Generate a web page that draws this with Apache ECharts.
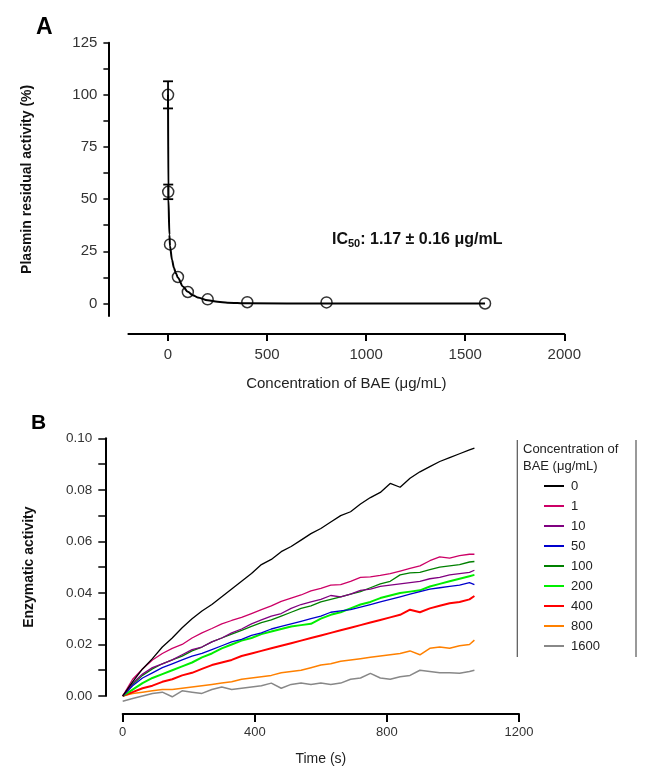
<!DOCTYPE html>
<html>
<head>
<meta charset="utf-8">
<script src="https://cdn.jsdelivr.net/npm/echarts@6/dist/echarts.min.js"></script>
<style>
html, body { margin: 0; padding: 0; background: #fff; }
#main { width: 645px; height: 781px; }
</style>
</head>
<body>
<div id="main"></div>
<script>
// ---- panel A: dose response ----
var concA = [0, 1, 10, 50, 100, 200, 400, 800, 1600];
var activityA = [100, 53.5, 28.3, 12.7, 5.5, 2, 0.6, 0.5, 0];
var sdA = [6.5, 3.5, 0, 0, 0, 0, 0, 0, 0];
// fitted curve
var fitX = [0, 2, 7, 10, 20, 30, 40, 50, 75, 100, 125, 150, 200, 250, 300, 400, 800, 1600];
var fitY = [100, 50, 33, 27.5, 21, 17, 14.5, 12.3, 8.2, 5.6, 4, 2.9, 1.5, 0.8, 0.4, 0.1, 0, 0];
var xLabelsA = [0, 500, 1000, 1500, 2000];
var yLabelsA = [0, 25, 50, 75, 100, 125];
var yTicksA = [0, 12.5, 25, 37.5, 50, 62.5, 75, 87.5, 100, 112.5, 125];

// ---- panel B: kinetics ----
var doses = ['0', '1', '10', '50', '100', '200', '400', '800', '1600'];
var timeB = [0, 30, 60, 90, 120, 150, 180, 210, 240, 270, 300, 330, 360, 390, 420, 450, 480, 510, 540,
  570, 600, 630, 660, 690, 720, 750, 780, 810, 840, 870, 900, 930, 960, 990, 1020, 1050, 1065];
var act0 = [0, .0055, .0105, .0145, .019, .0225, .0265, .030, .033, .0355, .0385, .0415, .0445, .0475, .0510, .0530,
  .0560, .0580, .0605, .0630, .0650, .0675, .0700, .0715, .0745, .0770, .0790, .0825, .0810, .0845, .0870,
  .0890, .0910, .0925, .0940, .0955, .0962];
var act1 = [0, .0065, .0105, .0140, .0165, .0185, .0200, .0225, .0245, .0262, .0280, .0293, .0305, .0320, .0335,
  .0350, .0367, .0380, .0392, .0408, .0418, .0430, .0432, .0445, .0460, .0462, .0468, .0475, .0485, .0495,
  .0505, .0525, .0540, .0535, .0545, .0550, .0550];
var act10 = [0, .0050, .0085, .0110, .0125, .0140, .0160, .0180, .0190, .0210, .0225, .0245, .0260, .0280, .0295,
  .0310, .0320, .0340, .0355, .0365, .0375, .0390, .0385, .0395, .0410, .0415, .0425, .0430, .0435, .0440,
  .0445, .0455, .0460, .0470, .0475, .0480, .0488];
var act50 = [0, .0040, .0070, .0090, .0110, .0125, .0140, .0155, .0165, .0180, .0195, .0210, .0220, .0235, .0245,
  .0260, .0270, .0280, .0290, .0300, .0310, .0325, .0330, .0335, .0345, .0355, .0365, .0375, .0385, .0395,
  .0405, .0415, .0420, .0425, .0430, .0440, .0432];
var act100 = [0, .0045, .0080, .0105, .0125, .0140, .0155, .0175, .0190, .0210, .0225, .0240, .0255, .0270, .0285,
  .0295, .0310, .0325, .0340, .0350, .0365, .0375, .0385, .0395, .0405, .0420, .0435, .0445, .0470, .0478,
  .0480, .0490, .0500, .0505, .0510, .0520, .0522];
var act200 = [0, .0025, .0050, .0070, .0085, .0100, .0115, .0130, .0150, .0165, .0185, .0200, .0215, .0225, .0240,
  .0250, .0260, .0270, .0275, .0280, .0300, .0315, .0325, .0340, .0355, .0365, .0380, .0390, .0400, .0405,
  .0410, .0425, .0435, .0445, .0455, .0465, .0470];
var act400 = [0, .0015, .0030, .0040, .0055, .0065, .0080, .0090, .0105, .0120, .0130, .0140, .0155, .0165, .0175,
  .0185, .0195, .0205, .0215, .0225, .0235, .0245, .0255, .0265, .0275, .0285, .0295, .0305, .0315, .0335,
  .0325, .0340, .0350, .0360, .0365, .0375, .0388];
var act800 = [0, .0010, .0015, .0020, .0025, .0025, .0030, .0035, .0040, .0045, .0050, .0055, .0065, .0070, .0075,
  .0080, .0090, .0095, .0100, .0110, .0120, .0125, .0135, .0140, .0145, .0150, .0155, .0160, .0165, .0175,
  .0160, .0185, .0190, .0185, .0195, .0200, .0217];
var act1600 = [-.0020, -.0010, 0, .0010, .0015, -.0003, .0020, .0015, .0010, .0025, .0035, .0025, .0030, .0035, .0040,
  .0050, .0030, .0045, .0050, .0045, .0050, .0045, .0050, .0065, .0070, .0088, .0070, .0065, .0075, .0080,
  .0100, .0095, .0090, .0090, .0088, .0095, .0100];
var actB = [act0, act1, act10, act50, act100, act200, act400, act800, act1600];
var xLabelsB = [0, 400, 800, 1200];

var lineColors = ['#000000', '#cc0066', '#800080', '#0000cc', '#008000', '#00ee00', '#ff0000', '#ff8000', '#888888'];
var lineWidths = [1.3, 1.3, 1.3, 1.3, 1.3, 2, 2, 1.5, 1.5];
var FONT = 'Liberation Sans, Arial, sans-serif';

function pairs(xs, ys) {
  return xs.map(function (x, i) { return [x, ys[i]]; });
}
function plain(v) { return String(v); }

var chart = echarts.init(document.getElementById('main'));

var seriesB = doses.map(function (d, k) {
  return {
    name: d,
    type: 'line',
    xAxisIndex: 1,
    yAxisIndex: 1,
    showSymbol: false,
    clip: false,
    z: 10 - k,
    lineStyle: { color: lineColors[k], width: lineWidths[k] },
    itemStyle: { color: lineColors[k] },
    data: pairs(timeB, actB[k])
  };
});

var errData = [];
concA.forEach(function (c, i) {
  if (sdA[i] > 0) errData.push([c, activityA[i] - sdA[i], activityA[i] + sdA[i]]);
});

var option = {
  animation: false,
  textStyle: { fontFamily: FONT },
  grid: [
    { left: 128.4, right: 80.7, top: 42.7, bottom: 465 },
    { left: 122.7, right: 126, top: 438.3, bottom: 85 }
  ],
  xAxis: [{
    gridIndex: 0,
    type: 'value',
    min: -200,
    max: 2000,
    offset: 18,
    name: 'Concentration of BAE (\u03bcg/mL)',
    nameLocation: 'middle',
    nameGap: 42,
    nameTextStyle: { fontSize: 15, color: '#222', fontFamily: FONT },
    axisLine: { onZero: false, lineStyle: { color: '#000', width: 2 } },
    axisTick: { length: 7, lineStyle: { color: '#000', width: 2 }, customValues: xLabelsA },
    axisLabel: { fontSize: 15, color: '#333', margin: 13, customValues: xLabelsA, formatter: plain },
    splitLine: { show: false }
  }, {
    gridIndex: 1,
    type: 'value',
    min: 0,
    max: 1200,
    interval: 400,
    offset: 18,
    name: 'Time (s)',
    nameLocation: 'middle',
    nameGap: 38,
    nameTextStyle: { fontSize: 14, color: '#222', fontFamily: FONT },
    axisLine: { onZero: false, lineStyle: { color: '#000', width: 2 } },
    axisTick: { length: 8, lineStyle: { color: '#000', width: 2 } },
    axisLabel: { fontSize: 13, color: '#333', margin: 12, customValues: xLabelsB, formatter: plain },
    splitLine: { show: false }
  }],
  yAxis: [{
    gridIndex: 0,
    type: 'value',
    min: -6,
    max: 125,
    offset: 20,
    name: 'Plasmin residual activity (%)',
    nameLocation: 'middle',
    nameGap: 74,
    nameTextStyle: { fontSize: 14, fontWeight: 'bold', color: '#111', fontFamily: FONT },
    axisLine: { onZero: false, lineStyle: { color: '#000', width: 2 } },
    axisTick: { length: 5, lineStyle: { color: '#000', width: 1.5 }, customValues: yTicksA },
    axisLabel: { fontSize: 15, color: '#333', margin: 11, customValues: yLabelsA, formatter: plain },
    splitLine: { show: false }
  }, {
    gridIndex: 1,
    type: 'value',
    min: 0,
    max: 0.1,
    interval: 0.02,
    offset: 17.4,
    name: 'Enzymatic activity',
    nameLocation: 'middle',
    nameGap: 69,
    nameTextStyle: { fontSize: 14, fontWeight: 'bold', color: '#111', fontFamily: FONT },
    axisLine: { onZero: false, lineStyle: { color: '#000', width: 2 } },
    axisTick: { length: 7, lineStyle: { color: '#000', width: 1.5 } },
    minorTick: { show: true, splitNumber: 2, length: 7, lineStyle: { color: '#000', width: 1.5 } },
    axisLabel: {
      fontSize: 13.5, color: '#333', margin: 13,
      formatter: function (v) { return v.toFixed(2); }
    },
    splitLine: { show: false },
    minorSplitLine: { show: false }
  }],
  legend: {
    orient: 'vertical',
    left: 539,
    top: 474,
    icon: 'rect',
    itemWidth: 20,
    itemHeight: 2,
    itemGap: 6,
    selectedMode: false,
    textStyle: { fontSize: 13, color: '#222', lineHeight: 14, padding: [0, 0, 0, 2], fontFamily: FONT },
    data: doses
  },
  graphic: [
    { type: 'text', left: 36, top: 16, style: { text: 'A', font: 'bold 23px ' + FONT, fill: '#000' } },
    { type: 'text', left: 31, top: 413, style: { text: 'B', font: 'bold 21px ' + FONT, fill: '#000' } },
    {
      type: 'text', left: 332, top: 232,
      style: {
        text: '{b|IC}{s|50}{b|: 1.17 \u00b1 0.16 \u03bcg/mL}',
        rich: {
          b: { fontSize: 16, fontWeight: 'bold', fontFamily: FONT, fill: '#111' },
          s: { fontSize: 11, fontWeight: 'bold', fontFamily: FONT, fill: '#111', padding: [8, 0, 0, 0] }
        }
      }
    },
    { type: 'text', left: 523, top: 443, style: { text: 'Concentration of', font: '13px ' + FONT, fill: '#222' } },
    { type: 'text', left: 523, top: 460, style: { text: 'BAE (\u03bcg/mL)', font: '13px ' + FONT, fill: '#222' } },
    { type: 'line', shape: { x1: 517.3, y1: 440, x2: 517.3, y2: 657 }, style: { stroke: '#555', lineWidth: 1.2 } },
    { type: 'line', shape: { x1: 636, y1: 440, x2: 636, y2: 657 }, style: { stroke: '#555', lineWidth: 1.2 } }
  ],
  series: [{
    name: 'fit',
    type: 'line',
    xAxisIndex: 0,
    yAxisIndex: 0,
    showSymbol: false,
    smooth: 0.3,
    smoothMonotone: 'x',
    lineStyle: { color: '#000', width: 2 },
    data: pairs(fitX, fitY)
  }, {
    name: 'points',
    type: 'scatter',
    xAxisIndex: 0,
    yAxisIndex: 0,
    symbol: 'circle',
    symbolSize: 11,
    clip: false,
    itemStyle: { color: 'rgba(0,0,0,0)', borderColor: '#000', borderWidth: 1.5 },
    data: pairs(concA, activityA)
  }, {
    name: 'sd',
    type: 'custom',
    xAxisIndex: 0,
    yAxisIndex: 0,
    encode: { x: 0, y: [1, 2] },
    renderItem: function (params, api) {
      var x = api.value(0);
      var lo = api.coord([x, api.value(1)]);
      var hi = api.coord([x, api.value(2)]);
      var w = 5;
      var st = { stroke: '#000', lineWidth: 1.8 };
      return {
        type: 'group',
        children: [
          { type: 'line', shape: { x1: hi[0], y1: hi[1], x2: lo[0], y2: lo[1] }, style: st },
          { type: 'line', shape: { x1: hi[0] - w, y1: hi[1], x2: hi[0] + w, y2: hi[1] }, style: st },
          { type: 'line', shape: { x1: lo[0] - w, y1: lo[1], x2: lo[0] + w, y2: lo[1] }, style: st }
        ]
      };
    },
    data: errData
  }].concat(seriesB)
};

chart.setOption(option);
</script>
</body>
</html>
